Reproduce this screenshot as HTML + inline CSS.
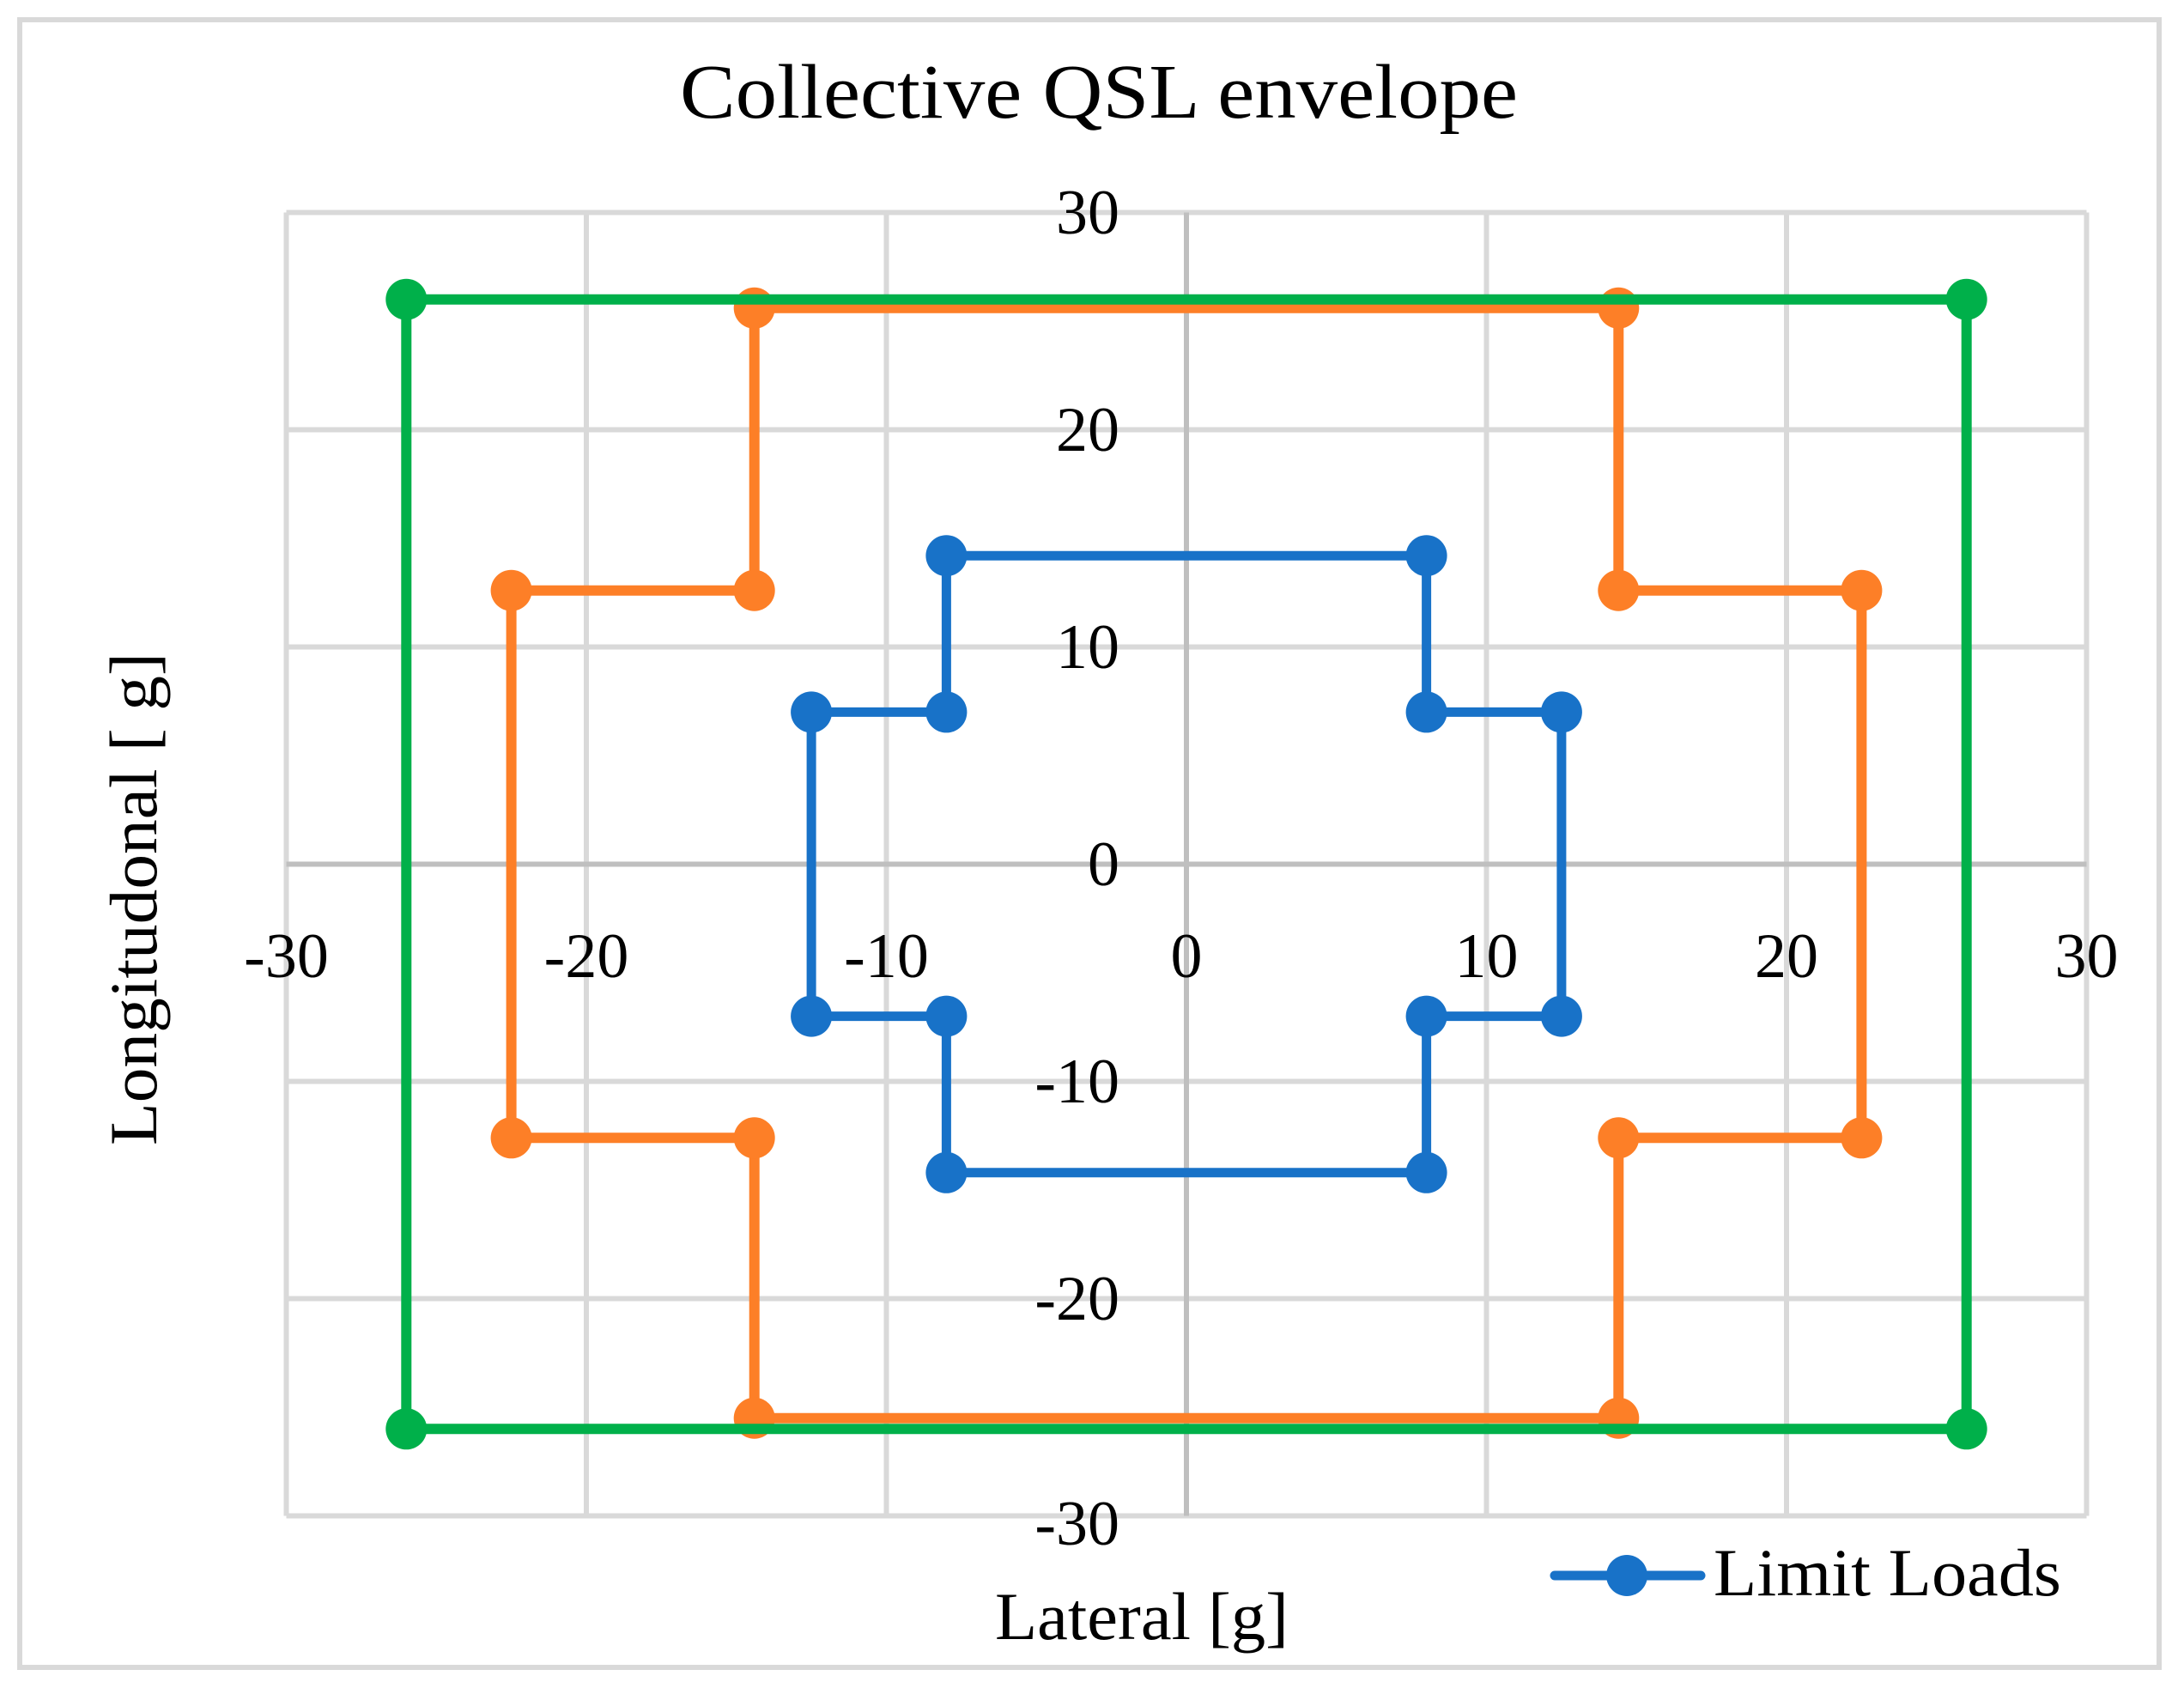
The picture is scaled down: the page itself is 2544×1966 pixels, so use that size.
<!DOCTYPE html>
<html><head><meta charset="utf-8"><style>
html,body{margin:0;padding:0;background:#fff;}
svg{display:block;}
text{font-family:"Liberation Serif",serif;fill:#000;}
</style></head><body>
<svg width="2544" height="1966" viewBox="0 0 2544 1966" xmlns="http://www.w3.org/2000/svg">
<rect x="0" y="0" width="2544" height="1966" fill="#fff"/>
<rect x="23" y="23" width="2492" height="1919" fill="none" stroke="#d9d9d9" stroke-width="6"/>
<text x="1280" y="137" font-size="90" text-anchor="middle" textLength="976" lengthAdjust="spacingAndGlyphs">Collective QSL envelope</text>
<g stroke="#d9d9d9" stroke-width="6">
<line x1="333.5" y1="247.5" x2="333.5" y2="1765.5"/>
<line x1="683" y1="247.5" x2="683" y2="1765.5"/>
<line x1="1032.5" y1="247.5" x2="1032.5" y2="1765.5"/>
<line x1="1731.5" y1="247.5" x2="1731.5" y2="1765.5"/>
<line x1="2081" y1="247.5" x2="2081" y2="1765.5"/>
<line x1="2430.5" y1="247.5" x2="2430.5" y2="1765.5"/>
<line x1="333.5" y1="247.5" x2="2430.5" y2="247.5"/>
<line x1="333.5" y1="500.5" x2="2430.5" y2="500.5"/>
<line x1="333.5" y1="753.5" x2="2430.5" y2="753.5"/>
<line x1="333.5" y1="1259.5" x2="2430.5" y2="1259.5"/>
<line x1="333.5" y1="1512.5" x2="2430.5" y2="1512.5"/>
<line x1="333.5" y1="1765.5" x2="2430.5" y2="1765.5"/>
</g>
<g stroke="#bfbfbf" stroke-width="6">
<line x1="1382" y1="247.5" x2="1382" y2="1765.5"/>
<line x1="333.5" y1="1006.5" x2="2430.5" y2="1006.5"/>
</g>
<g font-size="74" text-anchor="end">
<text x="1304" y="272">30</text>
<text x="1304" y="525">20</text>
<text x="1304" y="778">10</text>
<text x="1304" y="1031">0</text>
<text x="1304" y="1284">-10</text>
<text x="1304" y="1537">-20</text>
<text x="1304" y="1799">-30</text>
</g>
<g font-size="74" text-anchor="middle">
<text x="333.5" y="1138">-30</text>
<text x="683" y="1138">-20</text>
<text x="1032.5" y="1138">-10</text>
<text x="1382" y="1138">0</text>
<text x="1731.5" y="1138">10</text>
<text x="2081" y="1138">20</text>
<text x="2430.5" y="1138">30</text>
</g>
<text x="1330" y="1909" font-size="78" text-anchor="middle" textLength="342" lengthAdjust="spacingAndGlyphs">Lateral [g]</text>
<text transform="translate(182,1047) rotate(-90)" x="0" y="0" font-size="78" text-anchor="middle" textLength="574" lengthAdjust="spacingAndGlyphs">Longitudonal [ g]</text>
<!-- blue -->
<g stroke="#1872c8" stroke-width="11" fill="none" stroke-linejoin="round">
<polyline points="1102.4,647.2 1661.6,647.2 1661.6,829.4 1818.9,829.4 1818.9,1183.6 1661.6,1183.6 1661.6,1365.8 1102.4,1365.8 1102.4,1183.6 945.1,1183.6 945.1,829.4 1102.4,829.4 1102.4,647.2"/>
</g>
<g fill="#1872c8">
<circle cx="1102.4" cy="647.2" r="24"/><circle cx="1661.6" cy="647.2" r="24"/>
<circle cx="1661.6" cy="829.4" r="24"/><circle cx="1818.9" cy="829.4" r="24"/>
<circle cx="1818.9" cy="1183.6" r="24"/><circle cx="1661.6" cy="1183.6" r="24"/>
<circle cx="1661.6" cy="1365.8" r="24"/><circle cx="1102.4" cy="1365.8" r="24"/>
<circle cx="1102.4" cy="1183.6" r="24"/><circle cx="945.1" cy="1183.6" r="24"/>
<circle cx="945.1" cy="829.4" r="24"/><circle cx="1102.4" cy="829.4" r="24"/>
</g>
<!-- orange -->
<g stroke="#fd7f27" stroke-width="12" fill="none" stroke-linejoin="round">
<polyline points="878.7,358.8 1885.3,358.8 1885.3,687.7 2168.4,687.7 2168.4,1325.3 1885.3,1325.3 1885.3,1651.7 878.7,1651.7 878.7,1325.3 595.6,1325.3 595.6,687.7 878.7,687.7 878.7,358.8"/>
</g>
<g fill="#fd7f27">
<circle cx="878.7" cy="358.8" r="24"/><circle cx="1885.3" cy="358.8" r="24"/>
<circle cx="1885.3" cy="687.7" r="24"/><circle cx="2168.4" cy="687.7" r="24"/>
<circle cx="2168.4" cy="1325.3" r="24"/><circle cx="1885.3" cy="1325.3" r="24"/>
<circle cx="1885.3" cy="1651.7" r="24"/><circle cx="878.7" cy="1651.7" r="24"/>
<circle cx="878.7" cy="1325.3" r="24"/><circle cx="595.6" cy="1325.3" r="24"/>
<circle cx="595.6" cy="687.7" r="24"/><circle cx="878.7" cy="687.7" r="24"/>
</g>
<!-- green -->
<g stroke="#00b04a" stroke-width="12" fill="none" stroke-linejoin="round">
<polyline points="473.3,348.7 2290.7,348.7 2290.7,1664.3 473.3,1664.3 473.3,348.7"/>
</g>
<g fill="#00b04a">
<circle cx="473.3" cy="348.7" r="24"/><circle cx="2290.7" cy="348.7" r="24"/>
<circle cx="2290.7" cy="1664.3" r="24"/><circle cx="473.3" cy="1664.3" r="24"/>
</g>
<!-- legend -->
<line x1="1811" y1="1835" x2="1981" y2="1835" stroke="#1872c8" stroke-width="11" stroke-linecap="round"/>
<circle cx="1895" cy="1835" r="24" fill="#1872c8"/>
<text x="1996" y="1858" font-size="78" textLength="405" lengthAdjust="spacingAndGlyphs">Limit Loads</text>
</svg>
</body></html>
